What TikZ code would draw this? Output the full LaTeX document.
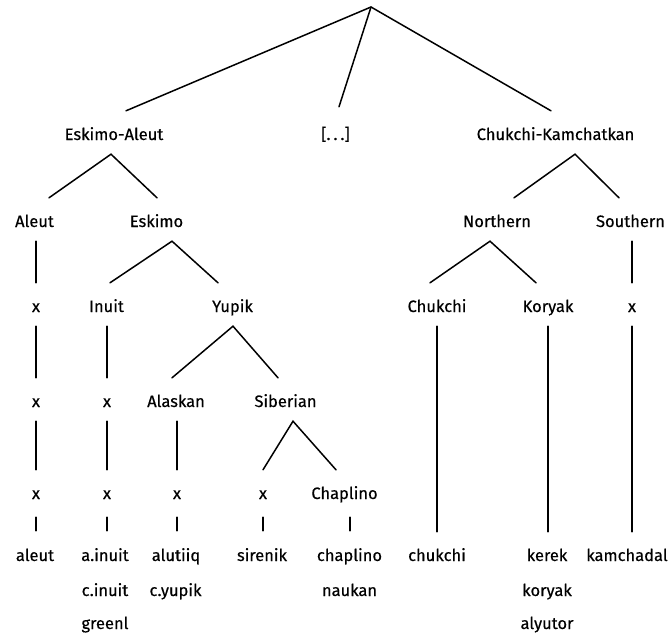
\documentclass[tikz,border=0pt]{standalone}
\usepackage{fontspec}
\setmainfont{Fira Sans}[FakeBold=0.4]
\begin{document}
\begin{tikzpicture}[x=1pt,y=-1pt,
  lbl/.style={anchor=base, inner sep=0pt, text height=29pt, text depth=14pt,
              font=\fontsize{16.5}{18}\selectfont},
  branch/.style={line width=1.5pt, line cap=round},
  stub/.style={branch, shorten <=4pt, shorten >=1pt}]
\useasboundingbox (0,0) rectangle (669,635);

% top level
\coordinate (root) at (371,7);
\node[lbl] (ea)   at (114,140)   {Eskimo-Aleut};
\node[lbl] (dots) at (335.5,140) {[.\kern3pt.\kern3pt.]};
\node[lbl] (ck)   at (555.5,140) {Chukchi-Kamchatkan};

% second level
\node[lbl] (aleut)  at (34.5,227)  {Aleut};
\node[lbl] (eskimo) at (156.5,227) {Eskimo};
\node[lbl] (north)  at (497,227)   {Northern};
\node[lbl] (south)  at (630.5,227) {Southern};

% third level
\node[lbl] (xa1)   at (36,312)    {x};
\node[lbl] (inuit) at (106.5,312) {Inuit};
\node[lbl] (yupik) at (232.5,312) {Yupik};
\node[lbl] (chuk)  at (437,312)   {Chukchi};
\node[lbl] (kor)   at (548,312)   {Koryak};
\node[lbl] (xs)    at (632,312)   {x};

% fourth level
\node[lbl] (xa2)      at (36,407)    {x};
\node[lbl] (xi1)      at (107,407)   {x};
\node[lbl] (alaskan)  at (176,407)   {Alaskan};
\node[lbl] (siberian) at (285.5,407) {Siberian};

% fifth level
\node[lbl] (xa3)      at (36,499)    {x};
\node[lbl] (xi2)      at (107,499)   {x};
\node[lbl] (xal)      at (177,499)   {x};
\node[lbl] (xsi)      at (263,499)   {x};
\node[lbl] (chaplino) at (344.5,499) {Chaplino};

% languages
\node[lbl] (aleutL)    at (35,561)    {aleut};
\node[lbl] (ainuit)    at (105,561)   {a.inuit};
\node[lbl] (cinuit)    at (105,596)   {c.inuit};
\node[lbl] (greenl)    at (105,629)   {greenl};
\node[lbl] (alutiiq)   at (176,561)   {alutiiq};
\node[lbl] (cyupik)    at (175.5,596) {c.yupik};
\node[lbl] (sirenik)   at (262,561)   {sirenik};
\node[lbl] (chaplinoL) at (349.5,561) {chaplino};
\node[lbl] (naukan)    at (349.5,596) {naukan};
\node[lbl] (chukchiL)  at (437,561)   {chukchi};
\node[lbl] (kerek)     at (547,561)   {kerek};
\node[lbl] (koryakL)   at (547,596)   {koryak};
\node[lbl] (alyutor)   at (547,629)   {alyutor};
\node[lbl] (kamchadal) at (627,561)   {kamchadal};

% root branches
\draw[branch] ([xshift=12pt]ea.north) -- (root) -- ([xshift=-4.5pt]ck.north);
\draw[branch] (root) -- ([xshift=3.5pt,yshift=4pt]dots.north);

% Eskimo-Aleut
\draw[branch] ([xshift=14.5pt]aleut.north) -- ([xshift=-3pt]ea.south) -- ([xshift=0.5pt]eskimo.north);
\draw[branch] ([xshift=1.5pt]aleut.south) -- (xa1.north);
\draw[branch] (xa1.south) -- (xa2.north);
\draw[branch] (xa2.south) -- (xa3.north);
\draw[stub]   (xa3.south) -- (xa3.south |- aleutL.north);

\draw[branch] ([xshift=3.5pt]inuit.north) -- ([xshift=15.5pt]eskimo.south) -- ([xshift=-14.5pt]yupik.north);
\draw[branch] ([xshift=0.5pt]inuit.south) -- (xi1.north);
\draw[branch] (xi1.south) -- (xi2.north);
\draw[stub]   (xi2.south) -- (xi2.south |- ainuit.north);

\draw[branch] ([xshift=-4pt]alaskan.north) -- ([xshift=0.5pt]yupik.south) -- ([xshift=-7.5pt]siberian.north);
\draw[branch] ([xshift=1pt]alaskan.south) -- (xal.north);
\draw[stub]   (xal.south) -- (xal.south |- alutiiq.north);

\draw[branch] (xsi.north) -- ([xshift=7.5pt]siberian.south) -- ([xshift=-8.5pt]chaplino.north);
\draw[stub]   (xsi.south) -- (xsi.south |- sirenik.north);
\draw[stub]   ([xshift=5.5pt]chaplino.south) -- ([xshift=5.5pt]chaplino.south |- chaplinoL.north);

% Chukchi-Kamchatkan
\draw[branch] ([xshift=17pt]north.north) -- ([xshift=19.5pt]ck.south) -- ([xshift=-11.5pt]south.north);
\draw[branch] ([xshift=-7pt]chuk.north) -- ([xshift=-7pt]north.south) -- ([xshift=-12pt]kor.north);
\draw[branch] ([xshift=1.5pt]south.south) -- (xs.north);
\draw[branch] (chuk.south) -- (chuk.south |- chukchiL.north);
\draw[branch] (kor.south) -- (kor.south |- kerek.north);
\draw[branch] (xs.south) -- (xs.south |- kamchadal.north);
\end{tikzpicture}
\end{document}
